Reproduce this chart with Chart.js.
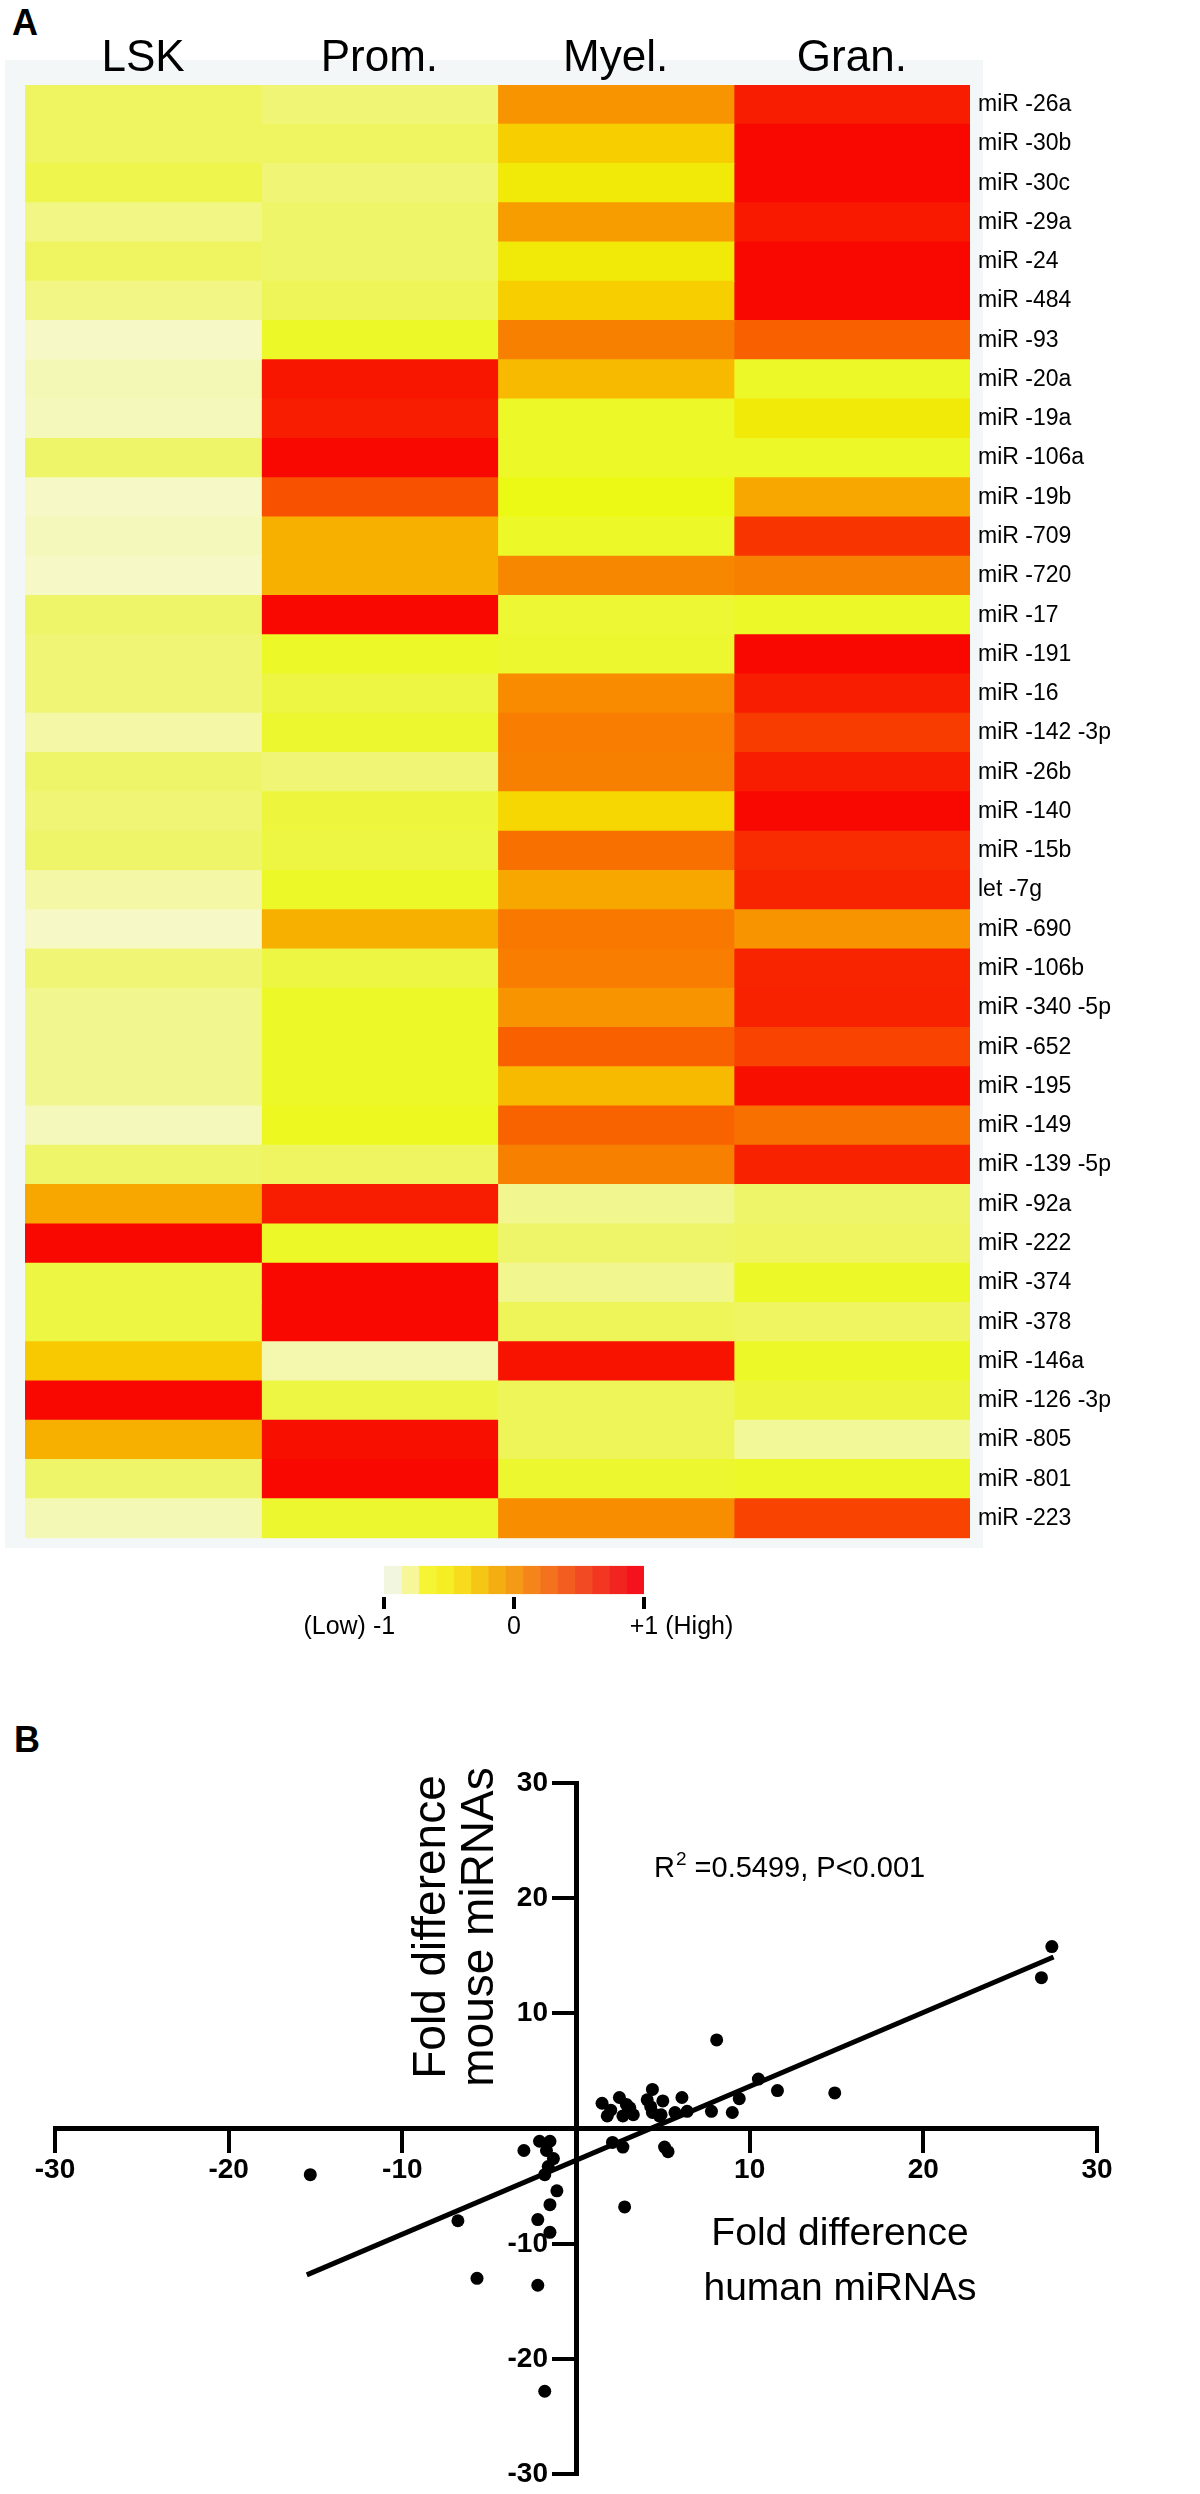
<!DOCTYPE html>
<html>
<head>
<meta charset="utf-8">
<script src="https://cdn.jsdelivr.net/npm/chart.js@4.4.1/dist/chart.umd.min.js"></script>
<style>
  html, body { margin: 0; padding: 0; background: #fff; }
  #page { position: relative; width: 1200px; height: 2494px; overflow: hidden; font-family: 'Liberation Sans', Arial, sans-serif; }
  canvas { position: absolute; left: 0; }
  .panel { position: absolute; font-weight: bold; font-size: 36px; line-height: 1; }
  #heatBg { position: absolute; left: 5px; top: 60px; width: 978px; height: 1488px; background: #f4f7f7; }
</style>
</head>
<body>
<div id="page">
  <div class="panel" style="left:12px; top:5px;">A</div>
  <div id="heatBg"></div>
  <canvas id="heatmap" width="1200" height="1560" style="top:0; width:1200px; height:1560px;"></canvas>
  <canvas id="scaleBar" width="1200" height="110" style="top:1550px; width:1200px; height:110px;"></canvas>
  <div class="panel" style="left:14px; top:1722px;">B</div>
  <canvas id="scatter" width="1200" height="794" style="top:1700px; width:1200px; height:794px;"></canvas>
</div>
<script>
// Panel A: miRNA levels per maturation stage, row scaled (-1 low .. +1 high)
const stages = ['LSK', 'Prom.', 'Myel.', 'Gran.'];
const mirnas = ['miR -26a', 'miR -30b', 'miR -30c', 'miR -29a', 'miR -24', 'miR -484', 'miR -93',
  'miR -20a', 'miR -19a', 'miR -106a', 'miR -19b', 'miR -709', 'miR -720', 'miR -17', 'miR -191',
  'miR -16', 'miR -142 -3p', 'miR -26b', 'miR -140', 'miR -15b', 'let -7g', 'miR -690', 'miR -106b',
  'miR -340 -5p', 'miR -652', 'miR -195', 'miR -149', 'miR -139 -5p', 'miR -92a', 'miR -222',
  'miR -374', 'miR -378', 'miR -146a', 'miR -126 -3p', 'miR -805', 'miR -801', 'miR -223'];
const lsk = [-0.7, -0.7, -0.65, -0.78, -0.7, -0.78, -0.95, -0.9, -0.92, -0.72, -0.95, -0.92, -0.95,
  -0.72, -0.75, -0.75, -0.85, -0.72, -0.75, -0.72, -0.85, -0.95, -0.75, -0.8, -0.8, -0.8, -0.92,
  -0.72, -0.05, 1.0, -0.62, -0.62, -0.22, 1.0, -0.1, -0.72, -0.9];
const prom = [-0.75, -0.7, -0.75, -0.72, -0.72, -0.68, -0.55, 0.9, 0.85, 1.0, 0.5, -0.1, -0.1,
  1.0, -0.55, -0.62, -0.57, -0.75, -0.6, -0.62, -0.55, -0.1, -0.62, -0.55, -0.55, -0.55, -0.53,
  -0.7, 0.85, -0.55, 1.0, 1.0, -0.88, -0.62, 0.95, 1.0, -0.57];
const myel = [0.05, -0.25, -0.4, 0.0, -0.4, -0.25, 0.2, -0.15, -0.55, -0.55, -0.5, -0.55, 0.15,
  -0.58, -0.57, 0.12, 0.22, 0.2, -0.3, 0.3, -0.05, 0.25, 0.22, 0.05, 0.4, -0.15, 0.38,
  0.2, -0.8, -0.72, -0.8, -0.68, 0.92, -0.68, -0.68, -0.57, 0.1];
const gran = [0.85, 1.0, 1.0, 0.88, 1.0, 1.0, 0.4, -0.55, -0.4, -0.55, -0.05, 0.7, 0.2,
  -0.55, 1.0, 0.85, 0.65, 0.85, 1.0, 0.75, 0.8, 0.05, 0.8, 0.82, 0.6, 0.95, 0.3,
  0.82, -0.72, -0.7, -0.55, -0.7, -0.55, -0.6, -0.82, -0.55, 0.6];
const legendTicks = [-1, 0, 1];

// Panel B: fold differences, human vs mouse
const humanFold = [1.5, 1.8, 2.5, 2.7, 2.9, 3.1, 3.3, 4.4, 4.1, 5.0, 4.4, 4.9, 4.8, 5.7, 6.1, 6.4,
  7.8, 9.0, 9.4, 10.5, 11.6, 14.9, 8.1, 26.8, 27.4, 2.1, 2.7, 5.1, 5.3, 2.8, -3.0, -2.1, -1.5,
  -1.7, -1.3, -1.6, -1.8, -1.1, -1.5, -2.2, -1.5, -6.8, -5.7, -2.2, -1.8, -15.3, 3.0, 4.3, 2.0];
const mouseFold = [2.2, 1.1, 2.7, 1.1, 2.1, 1.8, 1.2, 3.4, 2.5, 2.4, 1.4, 1.2, 1.1, 1.4, 2.7, 1.5,
  1.5, 1.4, 2.6, 4.3, 3.3, 3.1, 7.7, 13.1, 15.8, -1.2, -1.6, -1.6, -2.0, -6.8, -1.9, -1.1, -1.1,
  -1.9, -2.6, -3.3, -4.0, -5.4, -6.6, -7.9, -9.0, -8.0, -13.0, -13.6, -22.8, -4.0, 1.5, 1.9, 1.6];
const fitHuman = [-15.5, 27.5];
const fitMouse = [-12.7, 14.9];
const yTitle = ['Fold difference', 'mouse miRNAs'];
const xTitle = ['Fold difference', 'human miRNAs'];

// styles
const FONT = "'Liberation Sans', Arial, sans-serif";
const heatStops = [
  [-1.0, '#f7fad4'], [-0.85, '#f3f7a6'], [-0.72, '#eff568'], [-0.6, '#edf63c'], [-0.5, '#ecf914'],
  [-0.35, '#f4e102'], [-0.22, '#f8c800'], [-0.1, '#f8b000'], [0.05, '#f89400'], [0.2, '#f88000'],
  [0.4, '#f86000'], [0.6, '#f84400'], [0.8, '#f82400'], [1.0, '#f80800']
];
const legendColors = ['#f3f6de', '#f7f79a', '#f5f535', '#f6ee25', '#f7db1c', '#f6c616', '#f5ae12',
  '#f59a16', '#f5851b', '#f4721e', '#f35e20', '#f24a22', '#f23622', '#f22420', '#f5121c'];

function rgb(h) {
  return [1, 3, 5].map(i => parseInt(h.slice(i, i + 2), 16));
}
function heatColor(v) {
  for (let i = 1; i < heatStops.length; i++) {
    const [v0, c0] = heatStops[i - 1];
    const [v1, c1] = heatStops[i];
    if (v <= v1) {
      const t = Math.max(0, (v - v0) / (v1 - v0));
      const a = rgb(c0), b = rgb(c1);
      return 'rgb(' + a.map((c, k) => Math.round(c + (b[k] - c) * t)).join(',') + ')';
    }
  }
  return heatStops[heatStops.length - 1][1];
}

// heatmap: one floating bar per cell, colour from the value
const columns = [lsk, prom, myel, gran];
new Chart(document.getElementById('heatmap'), {
  type: 'bar',
  data: {
    labels: mirnas,
    datasets: columns.map((vals, c) => ({
      label: stages[c],
      data: vals.map(() => [c, c + 1]),
      backgroundColor: vals.map(heatColor),
      grouped: false,
      barPercentage: 1,
      categoryPercentage: 1,
      borderWidth: 0,
      inflateAmount: 0.6
    }))
  },
  options: {
    responsive: false,
    animation: false,
    indexAxis: 'y',
    layout: { padding: { left: 25, top: 0, right: 0, bottom: 17 } },
    plugins: { legend: { display: false }, tooltip: { enabled: false } },
    scales: {
      x: { type: 'linear', min: 0, max: 4, display: false },
      stage: {
        type: 'category', axis: 'x', position: 'top', labels: stages, offset: true,
        grid: { display: false, drawTicks: false }, border: { display: false },
        ticks: { color: '#000', font: { family: FONT, size: 44 }, padding: 0, maxRotation: 0 },
        afterFit: s => { s.height = 85; }
      },
      y: {
        type: 'category', position: 'right',
        grid: { display: false, drawTicks: false }, border: { display: false },
        ticks: { color: '#000', font: { family: FONT, size: 23 }, padding: 8, autoSkip: false },
        afterFit: s => { s.width = 230; }
      }
    }
  }
});

// colour key
const legendEnds = {
  id: 'legendEnds',
  afterDraw(chart) {
    const { ctx, scales: { x } } = chart;
    const y = x.top + 12 + 3 + 15;
    ctx.save();
    ctx.font = '25px ' + FONT;
    ctx.fillStyle = '#000';
    ctx.textBaseline = 'middle';
    ctx.textAlign = 'right';
    ctx.fillText('(Low) ', x.getPixelForValue(-1) - ctx.measureText('-1').width / 2, y);
    ctx.textAlign = 'left';
    ctx.fillText(' (High)', x.getPixelForValue(1) + ctx.measureText('+1').width / 2, y);
    ctx.restore();
  }
};
const nSteps = legendColors.length;
new Chart(document.getElementById('scaleBar'), {
  type: 'bar',
  data: {
    labels: [''],
    datasets: legendColors.map((col, k) => ({
      data: [[-1 + 2 * k / nSteps, -1 + 2 * (k + 1) / nSteps]],
      backgroundColor: col,
      grouped: false,
      barPercentage: 0.8,
      categoryPercentage: 1,
      borderWidth: 0,
      inflateAmount: 0.5
    }))
  },
  options: {
    responsive: false,
    animation: false,
    indexAxis: 'y',
    layout: { padding: { left: 384, right: 556, top: 13, bottom: 0 } },
    plugins: { legend: { display: false }, tooltip: { enabled: false } },
    scales: {
      x: {
        type: 'linear', min: -1, max: 1,
        afterBuildTicks: s => { s.ticks = legendTicks.map(v => ({ value: v })); },
        ticks: { color: '#000', font: { family: FONT, size: 25 }, padding: 3,
          callback: v => (v > 0 ? '+' + v : String(v)) },
        grid: { drawOnChartArea: false, tickLength: 12, lineWidth: 4, color: '#000' },
        border: { display: false },
        afterFit: s => { s.height = 63; }
      },
      y: { display: false }
    }
  },
  plugins: [legendEnds]
});

// scatter with axes crossing at the origin
const axisNotes = {
  id: 'axisNotes',
  afterDraw(chart) {
    const ctx = chart.ctx;
    ctx.save();
    ctx.fillStyle = '#000';
    ctx.textBaseline = 'alphabetic';
    ctx.textAlign = 'center';
    ctx.font = '46px ' + FONT;
    yTitle.forEach((line, i) => {
      ctx.save();
      ctx.translate(445 + i * 48, 227);
      ctx.rotate(-Math.PI / 2);
      ctx.fillText(line, 0, 0);
      ctx.restore();
    });
    ctx.font = '39px ' + FONT;
    xTitle.forEach((line, i) => ctx.fillText(line, 840, 545 + i * 55));
    ctx.textAlign = 'left';
    let x0 = 654;
    const base = 177;
    ctx.font = '29px ' + FONT;
    ctx.fillText('R', x0, base);
    x0 += ctx.measureText('R').width + 1;
    ctx.font = '19px ' + FONT;
    ctx.fillText('2', x0, base - 12);
    x0 += ctx.measureText('2').width;
    ctx.font = '29px ' + FONT;
    ctx.fillText(' =0.5499, P<0.001', x0, base);
    ctx.restore();
  }
};
const tickFont = { family: FONT, size: 28, weight: 'bold' };
const axisGrid = { drawOnChartArea: false, tickLength: 22, lineWidth: 4, color: '#000' };
const axisBorder = { width: 5, color: '#000' };

new Chart(document.getElementById('scatter'), {
  type: 'scatter',
  data: {
    datasets: [
      {
        data: humanFold.map((x, i) => ({ x, y: mouseFold[i] })),
        pointRadius: 6.5,
        pointBackgroundColor: '#000',
        pointBorderWidth: 0
      },
      {
        type: 'line',
        data: fitHuman.map((x, i) => ({ x, y: fitMouse[i] })),
        borderColor: '#000',
        borderWidth: 5,
        pointRadius: 0,
        fill: false
      }
    ]
  },
  options: {
    responsive: false,
    animation: false,
    layout: { padding: { left: 55, right: 103, top: 83, bottom: 16 } },
    plugins: { legend: { display: false }, tooltip: { enabled: false } },
    scales: {
      x: {
        type: 'linear', min: -30, max: 30, position: { y: 0 },
        ticks: { stepSize: 10, color: '#000', font: tickFont, padding: 3,
          callback: v => (v === 0 ? null : v) },
        grid: axisGrid, border: axisBorder
      },
      y: {
        type: 'linear', min: -30, max: 30, position: { x: 0 },
        // labels of an origin-placed y axis sit on the axis line; en spaces push them past the tick
        ticks: { stepSize: 10, color: '#000', font: tickFont,
          callback: v => (v === 0 ? null : v + '\u2002\u2002') },
        grid: axisGrid, border: axisBorder
      }
    }
  },
  plugins: [axisNotes]
});
</script>
</body>
</html>
